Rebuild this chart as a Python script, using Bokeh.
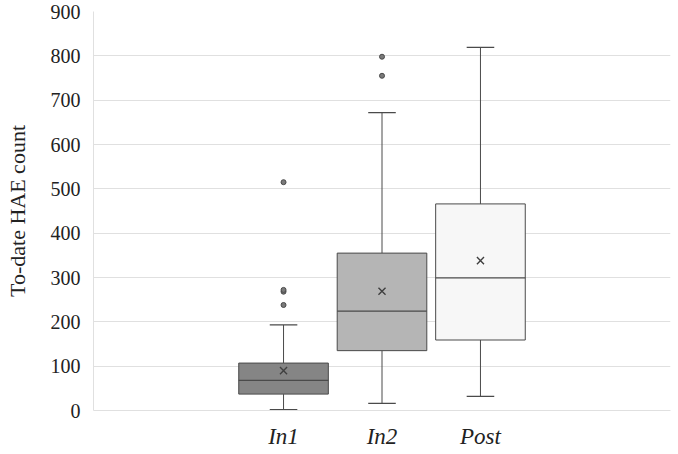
from bokeh.plotting import figure
from bokeh.models import FixedTicker, Range1d, ColumnDataSource
from bokeh.embed import file_html
from bokeh.resources import INLINE

categories = ["In1", "In2", "Post"]
positions = [-1, 0, 1]
lower_whisker = [2, 16, 32]
q1 = [37, 135, 159]
median = [68, 224, 299]
q3 = [107, 355, 466]
upper_whisker = [193, 672, 819]
means = [90, 269, 338]
outliers = {"In1": [238, 268, 272, 515], "In2": [755, 798], "Post": []}
fills = ["#858585", "#b5b5b5", "#f7f7f7"]
y_ticks = [0, 100, 200, 300, 400, 500, 600, 700, 800, 900]

box_w = 0.91
cap_w = 0.28

p = figure(width=678, height=454, output_backend="svg", toolbar_location=None,
           x_range=Range1d(-2.93, 2.93), y_range=Range1d(0, 900),
           min_border_left=93, min_border_right=8, min_border_top=11, min_border_bottom=44)
p.outline_line_color = None
p.background_fill_color = "white"
p.border_fill_color = "white"

src = ColumnDataSource(dict(x=positions, lw=lower_whisker, q1=q1, med=median, q3=q3,
                            uw=upper_whisker, mean=means, fill=fills,
                            cl=[x - cap_w / 2 for x in positions], cr=[x + cap_w / 2 for x in positions],
                            bl=[x - box_w / 2 for x in positions], br=[x + box_w / 2 for x in positions]))

line_col = "#4a4a4a"
p.segment(x0="x", y0="q3", x1="x", y1="uw", source=src, line_color=line_col, line_width=1)
p.segment(x0="x", y0="lw", x1="x", y1="q1", source=src, line_color=line_col, line_width=1)
p.segment(x0="cl", y0="uw", x1="cr", y1="uw", source=src, line_color=line_col, line_width=1.2)
p.segment(x0="cl", y0="lw", x1="cr", y1="lw", source=src, line_color=line_col, line_width=1.2)
p.vbar(x="x", width=box_w, top="q3", bottom="q1", source=src, fill_color="fill",
       line_color=line_col, line_width=1)
p.segment(x0="bl", y0="med", x1="br", y1="med", source=src, line_color=line_col, line_width=1.2)
p.scatter(x="x", y="mean", source=src, marker="x", size=10, line_color="#404040", line_width=1.4)

ox, oy = [], []
for c, pos in zip(categories, positions):
    for v in outliers[c]:
        ox.append(pos)
        oy.append(v)
p.scatter(ox, oy, marker="circle", size=5, fill_color="#7a7a7a", line_color="#4a4a4a", line_width=1)

p.xgrid.grid_line_color = None
p.ygrid.grid_line_color = "#e0e0e0"
p.ygrid.ticker = FixedTicker(ticks=y_ticks)

serif = "Liberation Serif"

p.yaxis.ticker = FixedTicker(ticks=y_ticks)
p.yaxis.axis_line_color = "#e0e0e0"
p.yaxis.major_tick_line_color = None
p.yaxis.minor_tick_line_color = None
p.yaxis.major_tick_out = 0
p.yaxis.major_label_text_font = serif
p.yaxis.major_label_text_font_size = "20px"
p.yaxis.major_label_text_color = "#222222"
p.yaxis.major_label_standoff = 13
p.yaxis.axis_label = "To-date HAE count"
p.yaxis.axis_label_text_font = serif
p.yaxis.axis_label_text_font_size = "22px"
p.yaxis.axis_label_text_font_style = "normal"
p.yaxis.axis_label_text_color = "#222222"
p.yaxis.axis_label_standoff = 18

p.xaxis.ticker = FixedTicker(ticks=positions)
p.xaxis.major_label_overrides = {pos: c for pos, c in zip(positions, categories)}
p.xaxis.axis_line_color = "#e0e0e0"
p.xaxis.major_tick_line_color = None
p.xaxis.minor_tick_line_color = None
p.xaxis.major_tick_out = 0
p.xaxis.major_label_text_font = serif
p.xaxis.major_label_text_font_style = "italic"
p.xaxis.major_label_text_font_size = "23px"
p.xaxis.major_label_text_color = "#222222"
p.xaxis.major_label_standoff = 13

open("out.html", "w").write(file_html(p, INLINE))
